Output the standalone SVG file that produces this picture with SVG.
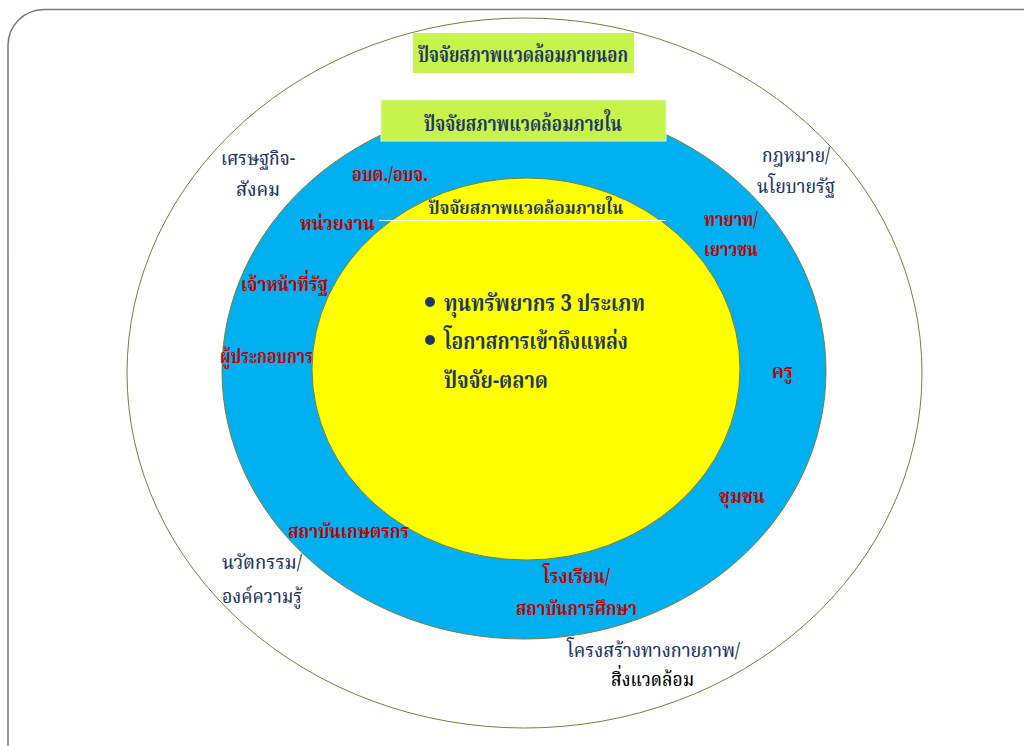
<svg xmlns="http://www.w3.org/2000/svg" width="1024" height="746" viewBox="0 0 1024 746">
<style>
text{font-family:"Noto Serif Thai","Noto Sans Thai","Noto Sans",sans-serif;}
.navy{fill:#1f3864;font-size:20px;font-weight:500;}
.red{fill:#c00000;font-size:20px;font-weight:bold;}
.title{fill:#1f3864;font-size:21px;font-weight:bold;}
.bul{fill:#1f3864;font-size:23px;font-weight:bold;}
.lbl{fill:#c6f34c;}
</style>
<rect x="0" y="0" width="1024" height="746" fill="#ffffff"/>
<rect x="8" y="9.5" width="1060" height="800" rx="36" ry="36" fill="none" stroke="#777777" stroke-width="1.5"/>
<g id="outer-ring">
<ellipse cx="524.5" cy="373" rx="397.5" ry="355" fill="#ffffff" stroke="#76803a" stroke-width="1"/>
</g>
<g id="middle-ring">
<ellipse cx="524" cy="371" rx="302" ry="268" fill="#00b0f0" stroke="#76803a" stroke-width="1"/>
</g>
<g id="inner-core">
<ellipse cx="526" cy="369" rx="214" ry="191" fill="#ffff00" stroke="#76803a" stroke-width="1"/>
<line x1="379" y1="220.5" x2="666" y2="220.5" stroke="#ffffff" stroke-width="1"/>
<text x="526" y="214" text-anchor="middle" style="fill:#1f3864;font-size:18px;font-weight:bold" textLength="195" lengthAdjust="spacingAndGlyphs">ปัจจัยสภาพแวดล้อมภายใน</text>
<circle cx="430" cy="302" r="5" fill="#1f3864"/>
<text class="bul" x="444" y="311" textLength="201" lengthAdjust="spacingAndGlyphs">ทุนทรัพยากร 3 ประเภท</text>
<circle cx="430" cy="340" r="5" fill="#1f3864"/>
<text class="bul" x="444" y="349" textLength="184" lengthAdjust="spacingAndGlyphs">โอกาสการเข้าถึงแหล่ง</text>
<text class="bul" x="444" y="388" textLength="104" lengthAdjust="spacingAndGlyphs">ปัจจัย-ตลาด</text>
</g>
<g id="label-outer">
<rect class="lbl" x="413" y="33" width="221" height="40"/>
<text class="title" x="523" y="62" text-anchor="middle" textLength="210" lengthAdjust="spacingAndGlyphs">ปัจจัยสภาพแวดล้อมภายนอก</text>
</g>
<g id="label-inner">
<rect class="lbl" x="381" y="100" width="285" height="41" stroke="#e8f5d0" stroke-width="1"/>
<text class="title" x="523" y="131" text-anchor="middle" textLength="198" lengthAdjust="spacingAndGlyphs">ปัจจัยสภาพแวดล้อมภายใน</text>
</g>
<g id="external-factors">
<text class="navy" x="221" y="165" textLength="74" lengthAdjust="spacingAndGlyphs">เศรษฐกิจ-</text>
<text class="navy" x="236" y="196" textLength="44" lengthAdjust="spacingAndGlyphs">สังคม</text>
<text class="navy" x="762" y="162" textLength="68" lengthAdjust="spacingAndGlyphs">กฎหมาย/</text>
<text class="navy" x="757" y="193" textLength="78" lengthAdjust="spacingAndGlyphs">นโยบายรัฐ</text>
<text class="navy" x="222" y="569" textLength="80" lengthAdjust="spacingAndGlyphs">นวัตกรรม/</text>
<text class="navy" x="222" y="603" textLength="80" lengthAdjust="spacingAndGlyphs">องค์ความรู้</text>
<text class="navy" x="567" y="657" textLength="173" lengthAdjust="spacingAndGlyphs">โครงสร้างทางกายภาพ/</text>
<text class="navy" x="611" y="686" style="fill:#000000" textLength="83" lengthAdjust="spacingAndGlyphs">สิ่งแวดล้อม</text>
</g>
<g id="internal-actors">
<text class="red" x="352" y="181" textLength="76" lengthAdjust="spacingAndGlyphs">อบต./อบจ.</text>
<text class="red" x="300" y="230" textLength="75" lengthAdjust="spacingAndGlyphs">หน่วยงาน</text>
<text class="red" x="241" y="291" textLength="87" lengthAdjust="spacingAndGlyphs">เจ้าหน้าที่รัฐ</text>
<text class="red" x="220" y="363" textLength="93" lengthAdjust="spacingAndGlyphs">ผู้ประกอบการ</text>
<text class="red" x="704" y="226" textLength="54" lengthAdjust="spacingAndGlyphs">ทายาท/</text>
<text class="red" x="704" y="256" textLength="54" lengthAdjust="spacingAndGlyphs">เยาวชน</text>
<text class="red" x="772" y="378" textLength="21" lengthAdjust="spacingAndGlyphs">ครู</text>
<text class="red" x="719" y="503" textLength="46" lengthAdjust="spacingAndGlyphs">ชุมชน</text>
<text class="red" x="288" y="538" textLength="121" lengthAdjust="spacingAndGlyphs">สถาบันเกษตรกร</text>
<text class="red" x="543" y="583" textLength="67" lengthAdjust="spacingAndGlyphs">โรงเรียน/</text>
<text class="red" x="516" y="615" textLength="121" lengthAdjust="spacingAndGlyphs">สถาบันการศึกษา</text>
</g>
</svg>
